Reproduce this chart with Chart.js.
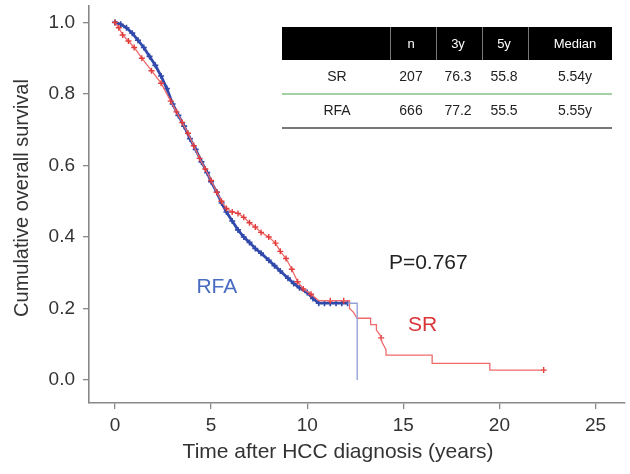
<!DOCTYPE html>
<html>
<head>
<meta charset="utf-8">
<script src="https://cdn.jsdelivr.net/npm/chart.js@4"></script>
<style>
  body { margin: 0; background: #fff; }
  #wrap { width: 630px; height: 474px; }
</style>
</head>
<body>
<div id="wrap"><canvas id="kmChart" width="630" height="474"></canvas></div>
<script>
// Kaplan-Meier curves (time in years, cumulative survival)
const rfaTime = [0, 0.3, 0.6, 0.9, 1.2, 1.5, 1.8, 2.1, 2.4, 2.7, 3.0, 3.3, 3.6, 3.9, 4.2, 4.5, 4.8, 5.0, 5.3, 5.55, 5.8, 6.1, 6.4, 6.7, 7.0, 7.3, 7.6, 8.0, 8.3, 8.6, 9.0, 9.3, 9.6, 10.0, 10.3, 10.6, 10.9, 11.2, 11.5, 11.8, 12.1];
const rfaSurv = [1.0, 0.995, 0.985, 0.97, 0.95, 0.93, 0.905, 0.88, 0.85, 0.815, 0.772, 0.74, 0.71, 0.675, 0.645, 0.61, 0.58, 0.555, 0.525, 0.495, 0.47, 0.445, 0.42, 0.4, 0.385, 0.368, 0.355, 0.335, 0.32, 0.305, 0.285, 0.27, 0.258, 0.245, 0.228, 0.215, 0.215, 0.215, 0.215, 0.215, 0.215];
// last RFA patient: flat to 12.6 then drop to 0
const rfaTailTime = [12.1, 12.6, 12.6];
const rfaTailSurv = [0.215, 0.215, 0.0];

const srTime = [0, 0.2, 0.4, 0.7, 1.0, 1.4, 1.9, 2.4, 2.9, 3.2, 3.5, 3.8, 4.1, 4.4, 4.7, 5.0, 5.3, 5.54, 5.8, 6.1, 6.4, 6.7, 7.0, 7.3, 7.6, 8.0, 8.35, 8.6, 8.9, 9.2, 9.5, 9.8, 10.2, 10.6, 12.2, 12.2, 12.4, 12.6, 13.3, 13.3, 13.6, 13.6, 13.8, 13.9, 14.1, 14.1, 16.5, 16.5, 19.5, 19.5, 22.3];
const srSurv = [1.0, 0.985, 0.965, 0.948, 0.93, 0.9, 0.865, 0.83, 0.78, 0.75, 0.72, 0.69, 0.655, 0.62, 0.59, 0.558, 0.525, 0.5, 0.48, 0.47, 0.466, 0.455, 0.44, 0.428, 0.413, 0.4, 0.383, 0.36, 0.34, 0.31, 0.275, 0.255, 0.24, 0.222, 0.222, 0.2, 0.19, 0.173, 0.173, 0.155, 0.155, 0.14, 0.125, 0.105, 0.085, 0.07, 0.07, 0.047, 0.047, 0.028, 0.028];
const srCensorTime = [11.2, 11.9, 13.85, 22.3];
const srCensorSurv = [0.222, 0.222, 0.118, 0.028];

const xTicks = [0, 5, 10, 15, 20, 25];
const yTicks = [0.0, 0.2, 0.4, 0.6, 0.8, 1.0];

const tableHead = ['', 'n', '3y', '5y', 'Median'];
const tableRows = [
    ['SR', '207', '76.3', '55.8', '5.54y'],
    ['RFA', '666', '77.2', '55.5', '5.55y']
];

const BLUE = '#3149ab';
const BLUE_LIGHT = '#93a3da';
const RED = '#e23b3b';
const RED_LINE = '#ef6a6a';
const FONT = '"Liberation Sans", Arial, sans-serif';

function pts(t, s) {
    return t.map((v, i) => ({ x: v, y: s[i] }));
}

const extras = {
    id: 'extras',
    afterDraw(chart) {
        const ctx = chart.ctx;
        const xs = chart.scales.x;
        const ys = chart.scales.y;
        ctx.save();

        // axis titles
        ctx.fillStyle = '#333';
        ctx.textAlign = 'center';
        ctx.textBaseline = 'middle';
        ctx.font = '21px ' + FONT;
        ctx.fillText('Time after HCC diagnosis (years)', 338, 452);
        ctx.save();
        ctx.translate(22, 198);
        ctx.rotate(-Math.PI / 2);
        ctx.font = '20px ' + FONT;
        ctx.fillText('Cumulative overall survival', 0, 0);
        ctx.restore();

        // annotations
        ctx.font = '21px ' + FONT;
        ctx.fillStyle = '#222';
        ctx.fillText('P=0.767', xs.getPixelForValue(16.3), ys.getPixelForValue(0.327));
        ctx.fillStyle = '#4a6cc0';
        ctx.fillText('RFA', xs.getPixelForValue(5.3), ys.getPixelForValue(0.26));
        ctx.fillStyle = '#d93438';
        ctx.fillText('SR', xs.getPixelForValue(16.0), ys.getPixelForValue(0.154));

        // summary table
        const left = 282, right = 612;
        const colX = [337, 411, 458, 504, 575];
        const divX = [390, 436, 482, 528];
        ctx.fillStyle = '#000';
        ctx.fillRect(left, 27, right - left, 33);
        ctx.strokeStyle = '#777';
        ctx.lineWidth = 1;
        divX.forEach(x => {
            ctx.beginPath();
            ctx.moveTo(x + 0.5, 27);
            ctx.lineTo(x + 0.5, 60);
            ctx.stroke();
        });
        ctx.fillStyle = '#fff';
        ctx.font = '13px ' + FONT;
        tableHead.forEach((h, i) => ctx.fillText(h, colX[i], 44));

        ctx.fillStyle = '#222';
        ctx.font = '14px ' + FONT;
        tableRows.forEach((row, r) => {
            const y = r === 0 ? 77 : 111;
            row.forEach((c, i) => ctx.fillText(c, colX[i], y));
        });
        ctx.strokeStyle = '#86c286';
        ctx.lineWidth = 1.5;
        ctx.beginPath();
        ctx.moveTo(left, 94);
        ctx.lineTo(right, 94);
        ctx.stroke();
        ctx.strokeStyle = '#777';
        ctx.lineWidth = 2;
        ctx.beginPath();
        ctx.moveTo(left, 128);
        ctx.lineTo(right, 128);
        ctx.stroke();

        ctx.restore();
    }
};

new Chart(document.getElementById('kmChart'), {
    type: 'line',
    data: {
        datasets: [
            {
                label: 'RFA tail',
                data: pts(rfaTailTime, rfaTailSurv),
                borderColor: BLUE_LIGHT,
                borderWidth: 1.4,
                pointRadius: 0,
                tension: 0
            },
            {
                label: 'SR',
                data: pts(srTime, srSurv),
                borderColor: RED_LINE,
                borderWidth: 1.3,
                pointStyle: 'cross',
                pointRadius: c => (c.raw && c.raw.x < 10.5 ? 3 : 0),
                pointBorderColor: RED,
                pointBorderWidth: 1.4,
                tension: 0
            },
            {
                label: 'SR censored',
                data: pts(srCensorTime, srCensorSurv),
                showLine: false,
                pointStyle: 'cross',
                pointRadius: 3,
                pointBorderColor: RED,
                pointBorderWidth: 1.4
            },
            {
                label: 'RFA',
                data: pts(rfaTime, rfaSurv),
                borderColor: BLUE,
                borderWidth: 2.8,
                pointStyle: 'cross',
                pointRadius: 3,
                pointBorderColor: BLUE,
                pointBorderWidth: 1.6,
                tension: 0
            }
        ]
    },
    options: {
        responsive: false,
        devicePixelRatio: 1,
        animation: false,
        layout: { padding: { top: 5, right: 0, left: 0, bottom: 0 } },
        plugins: { legend: { display: false }, tooltip: { enabled: false } },
        scales: {
            x: {
                type: 'linear',
                min: -1.35,
                max: 26.5,
                afterBuildTicks: s => { s.ticks = xTicks.map(v => ({ value: v })); },
                afterFit: s => { s.height = 71; s.paddingLeft = 0; s.paddingRight = 0; },
                grid: { drawOnChartArea: false, drawTicks: true, tickLength: 6, color: '#888', lineWidth: 1.3 },
                border: { color: '#888', width: 1.6 },
                ticks: { color: '#333', font: { family: FONT, size: 19 }, padding: 5, maxRotation: 0 }
            },
            y: {
                min: -0.064,
                max: 1.047,
                afterBuildTicks: s => { s.ticks = yTicks.map(v => ({ value: v })); },
                afterFit: s => { s.width = 89; s.paddingTop = 0; s.paddingBottom = 0; },
                grid: { drawOnChartArea: false, drawTicks: true, tickLength: 6, color: '#888', lineWidth: 1.3 },
                border: { color: '#888', width: 1.6 },
                ticks: { color: '#333', font: { family: FONT, size: 19 }, padding: 8, callback: v => v.toFixed(1) }
            }
        }
    },
    plugins: [extras]
});
</script>
</body>
</html>
